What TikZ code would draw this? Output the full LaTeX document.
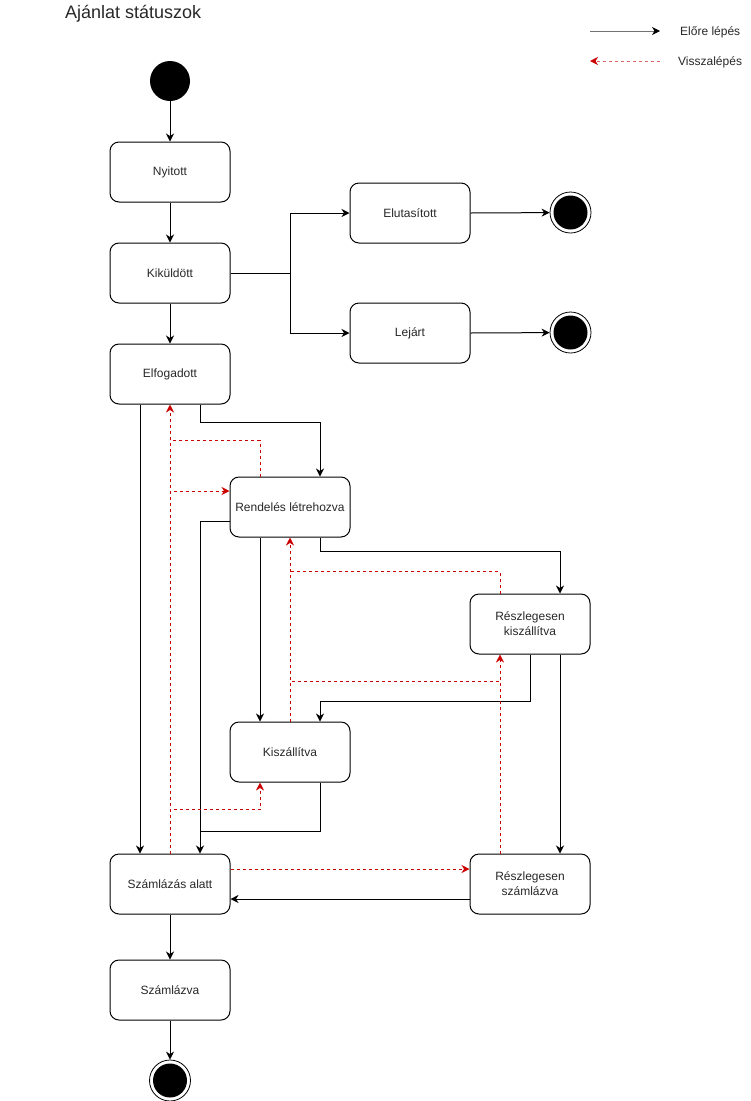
\documentclass[tikz,border=0pt]{standalone}
\usepackage{fontspec}
\setmainfont{Liberation Sans}
\usetikzlibrary{arrows.meta,calc}
\definecolor{redline}{RGB}{204,0,0}
\definecolor{txt}{RGB}{40,40,40}
\begin{document}
\begin{tikzpicture}[x=1pt,y=-1pt,
  box/.style={draw=black,line width=1pt,rounded corners=9pt,minimum width=120pt,minimum height=60pt,
    inner sep=0pt,align=center,text=txt,font=\fontsize{12}{15}\selectfont,fill=white},
  fwd/.style={draw=black,line width=1pt,-{Stealth[length=8pt,width=8pt,inset=2.5pt]}},
  fwdline/.style={draw=black,line width=1pt},
  back/.style={draw=redline,line width=1pt,dash pattern=on 3pt off 3pt,-{Stealth[length=8pt,width=8pt,inset=2.5pt]}},
  backline/.style={draw=redline,line width=1pt,dash pattern=on 3pt off 3pt},
  startst/.style={circle,fill=black,minimum size=40pt,inner sep=0pt},
  endst/.style={circle,draw=black,line width=0.8pt,fill=white,minimum size=41pt,inner sep=0pt,
    path picture={\fill[black] (path picture bounding box.center) circle (17pt);}},
  legtxt/.style={anchor=base west,text=txt,font=\fontsize{12}{14}\selectfont,inner sep=0pt}
]
\useasboundingbox (0,0) rectangle (751,1101);
\fill[white] (0,0) rectangle (751,1101);

% title
\node[anchor=base west,inner sep=0pt,text=txt,font=\fontsize{18}{22}\selectfont] (title) at (65,18.5) {Ajánlat státuszok};

% legend
\coordinate (la1) at (590,31);
\coordinate (la2) at (660,31);
\coordinate (lb1) at (660,61);
\coordinate (lb2) at (590,61);
\draw[draw=black!55,line width=1pt,-{Stealth[length=8pt,width=8pt,inset=2.5pt,black]}] (la1) -- (la2);
\draw[draw=redline!60,line width=1pt,dash pattern=on 3pt off 3pt,-{Stealth[length=8pt,width=8pt,inset=2.5pt,redline]}] (lb1) -- (lb2);
\node[legtxt] (lt1) at (680,35.5) {Előre lépés};
\node[legtxt] (lt2) at (678,65.5) {Visszalépés};

% states
\node[startst] (start) at (170,81) {};
\node[box] (nyi) at (170,172) {Nyitott};
\node[box] (kik) at (170,273) {Kiküldött};
\node[box] (elf) at (170,374) {Elfogadott};
\node[box] (elu) at (410,213) {Elutasított};
\node[box] (lej) at (410,333) {Lejárt};
\node[endst] (end1) at (570.5,212.5) {};
\node[endst] (end2) at (570.5,332.5) {};
\node[box] (rend) at (290,507) {Rendelés létrehozva};
\node[box] (rk) at (530,624) {Részlegesen\\kiszállítva};
\node[box] (kisz) at (290,752) {Kiszállítva};
\node[box] (sza) at (170,884) {Számlázás alatt};
\node[box] (rs) at (530,884) {Részlegesen\\számlázva};
\node[box] (szv) at (170,990) {Számlázva};
\node[endst] (end3) at (170,1080.5) {};

% forward connectors
\draw[fwd] (start) -- (nyi);
\draw[fwd] (nyi) -- (kik);
\draw[fwd] (kik) -- (elf);
\draw[fwd] (kik.east) -- ++(60,0) |- (elu.west);
\draw[fwd] (kik.east) -- ++(60,0) |- (lej.west);
\draw[fwd] (elu.east) -- (end1);
\draw[fwd] (lej.east) -- (end2);
\draw[fwd] ($(elf.south)+(30,0)$) -- ++(0,18) -| ($(rend.north)+(30,0)$);
\draw[fwd] ($(elf.south)+(-30,0)$) -- ($(sza.north)+(-30,0)$);
\draw[fwd] ($(rend.west)+(0,14)$) -| ($(sza.north)+(30,0)$);
\draw[fwd] ($(rend.south)+(-30,0)$) -- ($(kisz.north)+(-30,0)$);
\draw[fwd] ($(rend.south)+(30,0)$) -- ++(0,14) -| ($(rk.north)+(30,0)$);
\draw[fwd] (rk.south) -- ++(0,47) -| ($(kisz.north)+(30,0)$);
\draw[fwdline] ($(kisz.south)+(30,0)$) -- ++(0,49) -- ++(-120,0);
\draw[fwd] ($(rk.south)+(30,0)$) -- ($(rs.north)+(30,0)$);
\draw[fwd] ($(rs.west)+(0,15)$) -- ($(sza.east)+(0,15)$);
\draw[fwd] (sza) -- (szv);
\draw[fwd] (szv) -- (end3);

% backward connectors
\coordinate (j1) at ($(elf.south)+(0,36)$);
\coordinate (rendin) at ($(rend.west)+(0,-16)$);
\coordinate (j2) at ($(rend.south)+(0,34)$);
\coordinate (j3) at ($(rk.south)+(-30,27)$);
\draw[back] (sza.north) -- (elf.south);
\draw[back] (sza.north) -- (sza.north |- rendin) -- (rendin);
\draw[back] (sza.north) -- ++(0,-44) -| ($(kisz.south)+(-30,0)$);
\draw[backline] ($(rend.north)+(-30,0)$) |- (j1);
\draw[back] (kisz.north) -- (rend.south);
\draw[backline] ($(rk.north)+(-30,0)$) |- (j2);
\draw[backline] (kisz.north) |- (j3);
\draw[back] ($(rs.north)+(-30,0)$) -- ($(rk.south)+(-30,0)$);
\draw[back] ($(sza.east)+(0,-15)$) -- ($(rs.west)+(0,-15)$);
\end{tikzpicture}
\end{document}
